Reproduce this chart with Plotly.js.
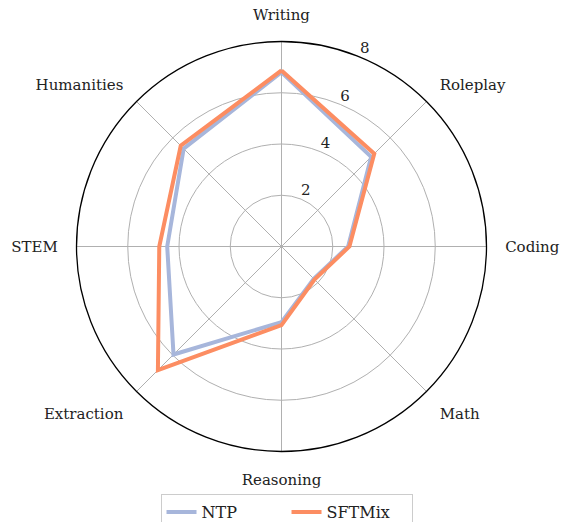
<!DOCTYPE html>
<html>
<head>
<meta charset="utf-8">
<script src="https://cdn.plot.ly/plotly-3.0.1.min.js"></script>
<style>html,body{margin:0;padding:0;background:#fff;overflow:hidden;}#chart{width:564px;height:530px;}</style>
</head>
<body>
<div id="chart"></div>
<script>
const categories = ["Writing", "Roleplay", "Coding", "Math", "Reasoning", "Extraction", "STEM", "Humanities"];
const ntpValues = [6.8, 4.95, 2.6, 1.78, 2.95, 5.96, 4.46, 5.4];
const sftmixValues = [6.87, 5.12, 2.65, 1.82, 3.07, 6.82, 4.77, 5.56];
const radialTicks = [2, 4, 6, 8];

const step = 360 / categories.length;
const thetas = categories.map((c, i) => i * step);
function closed(arr) { return arr.concat([arr[0]]); }

const serif = "DejaVu Serif, serif";
const H = 530;

const traces = [
  {
    type: "scatterpolar", mode: "lines", name: "NTP",
    r: closed(ntpValues), theta: closed(thetas),
    line: {color: "#a7b6db", width: 4}, hoverinfo: "skip"
  },
  {
    type: "scatterpolar", mode: "lines", name: "SFTMix",
    r: closed(sftmixValues), theta: closed(thetas),
    line: {color: "#fc8d62", width: 4}, hoverinfo: "skip"
  },
  {
    // radial tick labels, drawn between the first two spokes (as in the source)
    type: "scatterpolar", mode: "text", showlegend: false, hoverinfo: "skip",
    r: radialTicks, theta: radialTicks.map(() => step / 2),
    text: radialTicks.map(String), textposition: "top right",
    textfont: {family: serif, size: 15, color: "#222"}, cliponaxis: false
  }
];

const layout = {
  width: 564, height: H,
  margin: {l: 0, r: 0, t: 0, b: 0},
  paper_bgcolor: "#fff",
  font: {family: serif, size: 15, color: "#222"},
  showlegend: true,
  legend: {
    orientation: "h", x: 0.508, xanchor: "center", y: 0, yanchor: "bottom",
    bordercolor: "#cccccc", borderwidth: 1,
    font: {family: serif, size: 16, color: "#222"},
    entrywidth: 80
  },
  polar: {
    domain: {x: [76.5/564, 486.5/564], y: [1 - 451.5/H, 1 - 41.5/H]},
    bgcolor: "#fff",
    angularaxis: {
      type: "linear", thetaunit: "degrees",
      direction: "clockwise", rotation: 90,
      tickmode: "array", tickvals: thetas, ticktext: categories,
      showline: true, linecolor: "#000", linewidth: 1.3,
      showgrid: true, gridcolor: "#b0b0b0", gridwidth: 1,
      ticks: "outside", ticklen: 15, tickcolor: "rgba(0,0,0,0)",
      tickfont: {family: serif, size: 15, color: "#222"}
    },
    radialaxis: {
      range: [0, 8], tickvals: radialTicks, showticklabels: false,
      showline: false, showgrid: true, gridcolor: "#b0b0b0", gridwidth: 1,
      ticks: ""
    }
  }
};

Plotly.newPlot("chart", traces, layout, {displayModeBar: false, staticPlot: true});
</script>
</body>
</html>
